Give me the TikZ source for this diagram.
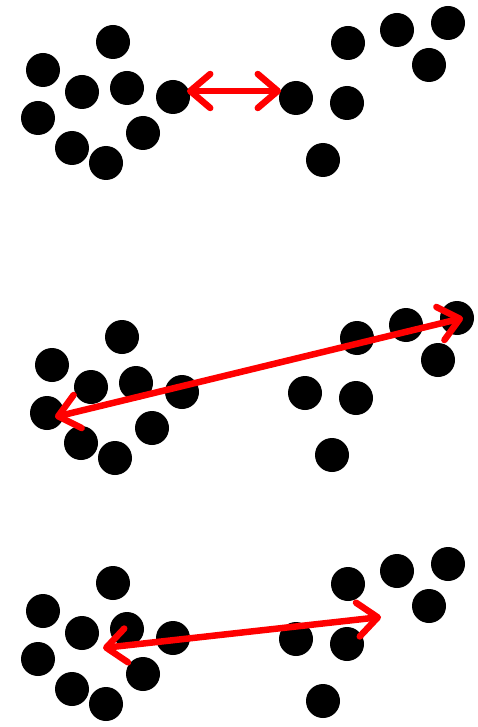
\documentclass[tikz,border=0pt]{standalone}
\usepackage{tikz}
\usetikzlibrary{arrows.meta,positioning,calc}

\begin{document}
\begin{tikzpicture}[x=1pt,y=-1pt,
    dot/.style={circle, fill=black, minimum size=34pt, inner sep=0pt},
    link/.style={red, line width=6.5pt,
        {Straight Barb[length=20pt,width=34pt,round]}-{Straight Barb[length=20pt,width=34pt,round]}}]
                    \fill[white] (0,0) rectangle (477,727);
                    \useasboundingbox (0,0) rectangle (477,727);
                    \foreach \k/\dx/\dy in {1/0/0,2/9/295,3/0/541}{
                        \begin{scope}[shift={(\dx,\dy)}]
                            \foreach \i/\x/\y in {1/113/42,2/43/70,3/82/92,4/127/88,5/173/97,
                                                  6/38/118,7/143/133,8/72/148,9/106/163}{
                                \node[dot] (l\k-\i) at (\x,\y) {};
                            }
                            \foreach \i/\x/\y in {1/348/43,2/397/30,3/448/23,4/429/65,
                                                  5/296/98,6/347/103,7/323/160}{
                                \node[dot] (r\k-\i) at (\x,\y) {};
                            }
                        \end{scope}
                    }
                    \coordinate (s1) at (187,91);
                    \coordinate (t1) at (281,91);
                    \coordinate (s2) at (55,417);
                    \coordinate (t2) at (463,318);
                    \coordinate (s3) at (103,648);
                    \coordinate (t3) at (381,617);
                    \draw[link] (s1) -- (t1);
                    \draw[link] (s2) -- (t2);
                    \draw[link] (s3) -- (t3);
                \end{tikzpicture}
\end{document}
